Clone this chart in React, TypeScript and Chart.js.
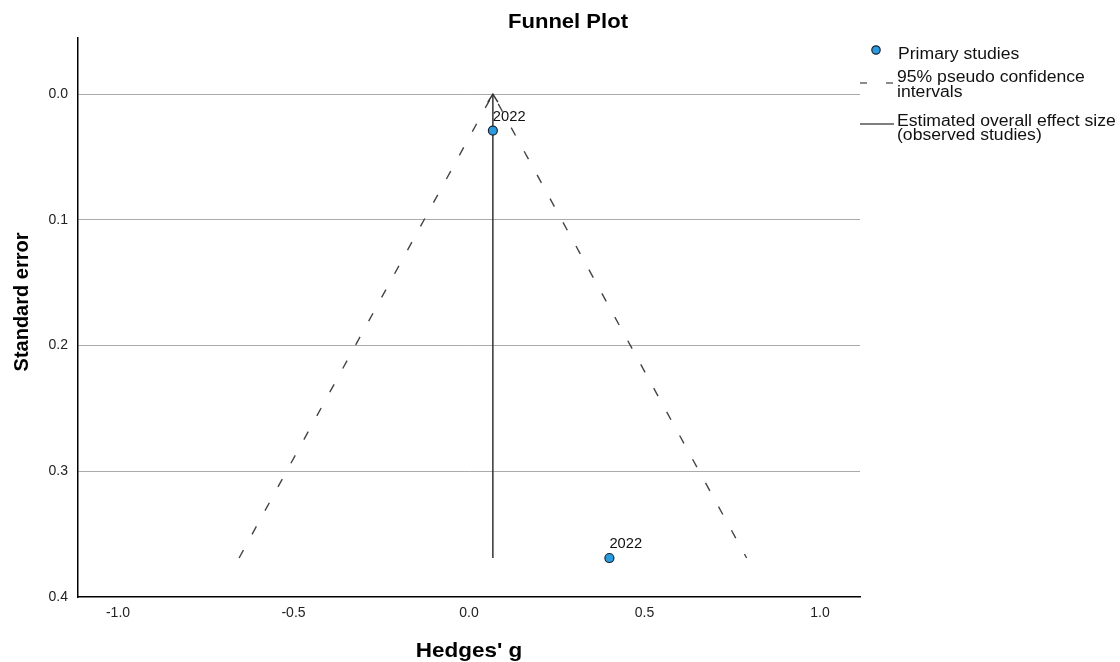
import React, { useEffect, useRef } from "react";
import { Chart, registerables } from "chart.js";

Chart.register(...registerables);

// ---- data ----
const studyLabels = ["2022", "2022"];
const hedgesG = [0.068, 0.4];
const standardError = [0.029, 0.369];

const funnelX = [-0.655, 0.068, 0.791];
const funnelSE = [0.369, 0.0, 0.369];

const effectX = [0.068, 0.068];
const effectSE = [0.369, 0.0];

const xTicks = [-1.0, -0.5, 0.0, 0.5, 1.0];
const yTicks = [0.0, 0.1, 0.2, 0.3, 0.4];

const chartTitle = "Funnel Plot";
const xTitle = "Hedges' g";
const yTitle = "Standard error";
const legendPrimary = "Primary studies";
const legendCI = ["95% pseudo confidence", "intervals"];
const legendEffect = ["Estimated overall effect size", "(observed studies)"];

const FONT = "'Liberation Sans', Arial, sans-serif";
const POINT_FILL = "#2b9be0";
const POINT_BORDER = "#1b2433";

function stretchText(ctx: any, text: string, x: number, y: number, sx: number, align: string) {
  ctx.save();
  ctx.translate(x, y);
  ctx.scale(sx, 1);
  ctx.textAlign = align;
  ctx.fillText(text, 0, 0);
  ctx.restore();
}

const decorPlugin = {
  id: "decor",
  afterDatasetsDraw(chart: any) {
    const ctx = chart.ctx;
    const xs = chart.scales.x;
    const ys = chart.scales.y;
    ctx.save();
    // study labels
    ctx.fillStyle = "#111";
    ctx.font = `14px ${FONT}`;
    ctx.textBaseline = "alphabetic";
    for (let i = 0; i < hedgesG.length; i++) {
      const px = xs.getPixelForValue(hedgesG[i]);
      const py = ys.getPixelForValue(standardError[i]);
      stretchText(ctx, studyLabels[i], px, py - 10, 1.05, "left");
    }
    // arrow head at top of the effect line
    const ax = xs.getPixelForValue(effectX[1]);
    const ay = ys.getPixelForValue(effectSE[1]);
    ctx.strokeStyle = "#333";
    ctx.lineWidth = 1.5;
    ctx.beginPath();
    ctx.moveTo(ax - 5, ay + 8);
    ctx.lineTo(ax, ay);
    ctx.lineTo(ax + 5, ay + 8);
    ctx.stroke();
    ctx.restore();
  },
  afterDraw(chart: any) {
    const ctx = chart.ctx;
    const area = chart.chartArea;
    ctx.save();
    ctx.textBaseline = "alphabetic";
    // title
    ctx.fillStyle = "#000";
    ctx.font = `bold 21px ${FONT}`;
    stretchText(ctx, chartTitle, 568, 28, 1.05, "center");
    // x title
    ctx.font = `bold 21px ${FONT}`;
    stretchText(ctx, xTitle, (area.left + area.right) / 2, 657, 1.07, "center");
    // y title
    ctx.save();
    ctx.translate(28, 302);
    ctx.rotate(-Math.PI / 2);
    ctx.font = `bold 20px ${FONT}`;
    ctx.textAlign = "center";
    ctx.fillText(yTitle, 0, 0);
    ctx.restore();

    // legend
    ctx.font = `16px ${FONT}`;
    // primary studies marker
    ctx.beginPath();
    ctx.arc(876, 50, 4.2, 0, Math.PI * 2);
    ctx.fillStyle = POINT_FILL;
    ctx.fill();
    ctx.lineWidth = 1.2;
    ctx.strokeStyle = POINT_BORDER;
    ctx.stroke();
    ctx.fillStyle = "#111";
    const SX = 1.1;
    stretchText(ctx, legendPrimary, 898, 59, SX, "left");
    // CI
    ctx.strokeStyle = "#666";
    ctx.lineWidth = 1.5;
    ctx.setLineDash([7, 19]);
    ctx.beginPath();
    ctx.moveTo(860, 83);
    ctx.lineTo(894, 83);
    ctx.stroke();
    ctx.setLineDash([]);
    stretchText(ctx, legendCI[0], 897, 82, SX, "left");
    stretchText(ctx, legendCI[1], 897, 97, SX, "left");
    // effect
    ctx.strokeStyle = "#555";
    ctx.lineWidth = 1.5;
    ctx.beginPath();
    ctx.moveTo(860, 124);
    ctx.lineTo(894, 124);
    ctx.stroke();
    stretchText(ctx, legendEffect[0], 897, 126, SX, "left");
    stretchText(ctx, legendEffect[1], 897, 140, SX, "left");
    ctx.restore();
  },
};

export default function App() {
  const ref = useRef<HTMLCanvasElement | null>(null);
  useEffect(() => {
    document.body.style.margin = "0";
    const canvas = ref.current;
    if (!canvas) return;
    const chart = new Chart(canvas, {
      type: "scatter",
      data: {
        datasets: [
          {
            label: "Primary studies",
            data: hedgesG.map((x, i) => ({ x, y: standardError[i] })),
            pointRadius: 4.5,
            pointBackgroundColor: POINT_FILL,
            pointBorderColor: POINT_BORDER,
            pointBorderWidth: 1.2,
            showLine: false,
            order: 0,
          },
          {
            label: "95% pseudo confidence intervals",
            data: funnelX.map((x, i) => ({ x, y: funnelSE[i] })),
            showLine: true,
            borderColor: "#444",
            borderWidth: 1.4,
            borderDash: [9, 18],
            pointRadius: 0,
            fill: false,
            order: 2,
          },
          {
            label: "Estimated overall effect size",
            data: effectX.map((x, i) => ({ x, y: effectSE[i] })),
            showLine: true,
            borderColor: "#333",
            borderWidth: 1.5,
            pointRadius: 0,
            fill: false,
            order: 1,
          },
        ],
      },
      options: {
        responsive: false,
        animation: false,
        events: [],
        layout: { padding: { top: 38, right: 260, left: 0, bottom: 0 } },
        font: { family: FONT },
        plugins: {
          legend: { display: false },
          tooltip: { enabled: false },
          title: { display: false },
        },
        scales: {
          x: {
            type: "linear",
            min: -1.114,
            max: 1.114,
            afterBuildTicks: (s: any) => {
              s.ticks = xTicks.map((v) => ({ value: v }));
            },
            afterFit: (s: any) => {
              s.height = 65;
            },
            ticks: {
              callback: (v: any) => Number(v).toFixed(1),
              font: { size: 14, family: FONT },
              color: "#222",
              padding: 8,
              maxRotation: 0,
            },
            grid: { display: false, drawTicks: false },
            border: { display: true, color: "#000", width: 1.5 },
          },
          y: {
            type: "linear",
            reverse: true,
            min: -0.0446,
            max: 0.4,
            afterBuildTicks: (s: any) => {
              s.ticks = yTicks.map((v) => ({ value: v }));
            },
            afterFit: (s: any) => {
              s.width = 78;
            },
            ticks: {
              callback: (v: any) => Number(v).toFixed(1),
              font: { size: 14, family: FONT },
              color: "#222",
              padding: 10,
            },
            grid: {
              drawTicks: false,
              color: (c: any) =>
                c.tick && Math.abs(c.tick.value - 0.4) < 1e-9 ? "rgba(0,0,0,0)" : "#aaaaaa",
              lineWidth: 1,
            },
            border: { display: true, color: "#000", width: 1.5 },
          },
        },
      },
      plugins: [decorPlugin],
    } as any);
    return () => chart.destroy();
  }, []);
  return (
    <div style={{ position: "fixed", left: 0, top: 0, width: 1120, height: 662, background: "#fff" }}>
      <canvas ref={ref} width={1120} height={662} style={{ display: "block" }} />
    </div>
  );
}
